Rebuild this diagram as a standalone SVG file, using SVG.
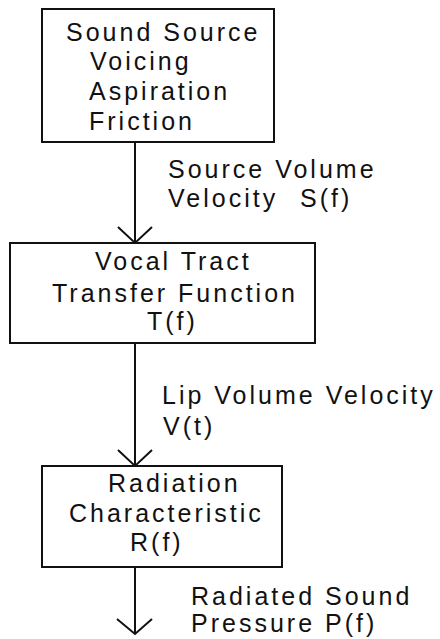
<svg xmlns="http://www.w3.org/2000/svg" width="440" height="639" viewBox="0 0 440 639">
<style>
text{font-family:"Liberation Sans",Arial,sans-serif;font-size:25px;letter-spacing:3px;fill:#111}
.box{fill:#fff;stroke:#111;stroke-width:2}
.ln{stroke:#111;stroke-width:2;fill:none}
</style>
<rect width="440" height="639" fill="#fff"/>
<g id="connectors">
<line class="ln" x1="135" y1="142" x2="135" y2="243"/>
<polyline class="ln" points="118,227 135,243 152,227"/>
<line class="ln" x1="135" y1="343" x2="135" y2="466"/>
<polyline class="ln" points="118,450 135,466 152,450"/>
<line class="ln" x1="135" y1="567" x2="135" y2="634"/>
<polyline class="ln" points="117,619 135,634 152,619"/>
<text x="168" y="178">Source Volume</text>
<text x="168" y="207">Velocity</text>
<text x="300" y="207">S(f)</text>
<text x="162" y="404">Lip Volume Velocity</text>
<text x="163" y="435">V(t)</text>
<text x="191" y="605">Radiated Sound</text>
<text x="191" y="632">Pressure P(f)</text>
</g>
<g id="source">
<rect class="box" x="42" y="9" width="232" height="133"/>
<text x="66" y="41">Sound Source</text>
<text x="90" y="70">Voicing</text>
<text x="89" y="100">Aspiration</text>
<text x="89" y="130">Friction</text>
</g>
<g id="tract">
<rect class="box" x="10" y="243" width="305" height="100"/>
<text x="95" y="270">Vocal Tract</text>
<text x="52" y="302">Transfer Function</text>
<text x="147" y="330">T(f)</text>
</g>
<g id="radiation">
<rect class="box" x="42" y="466" width="240" height="101"/>
<text x="108" y="492">Radiation</text>
<text x="69" y="522">Characteristic</text>
<text x="130" y="551">R(f)</text>
</g>
</svg>
